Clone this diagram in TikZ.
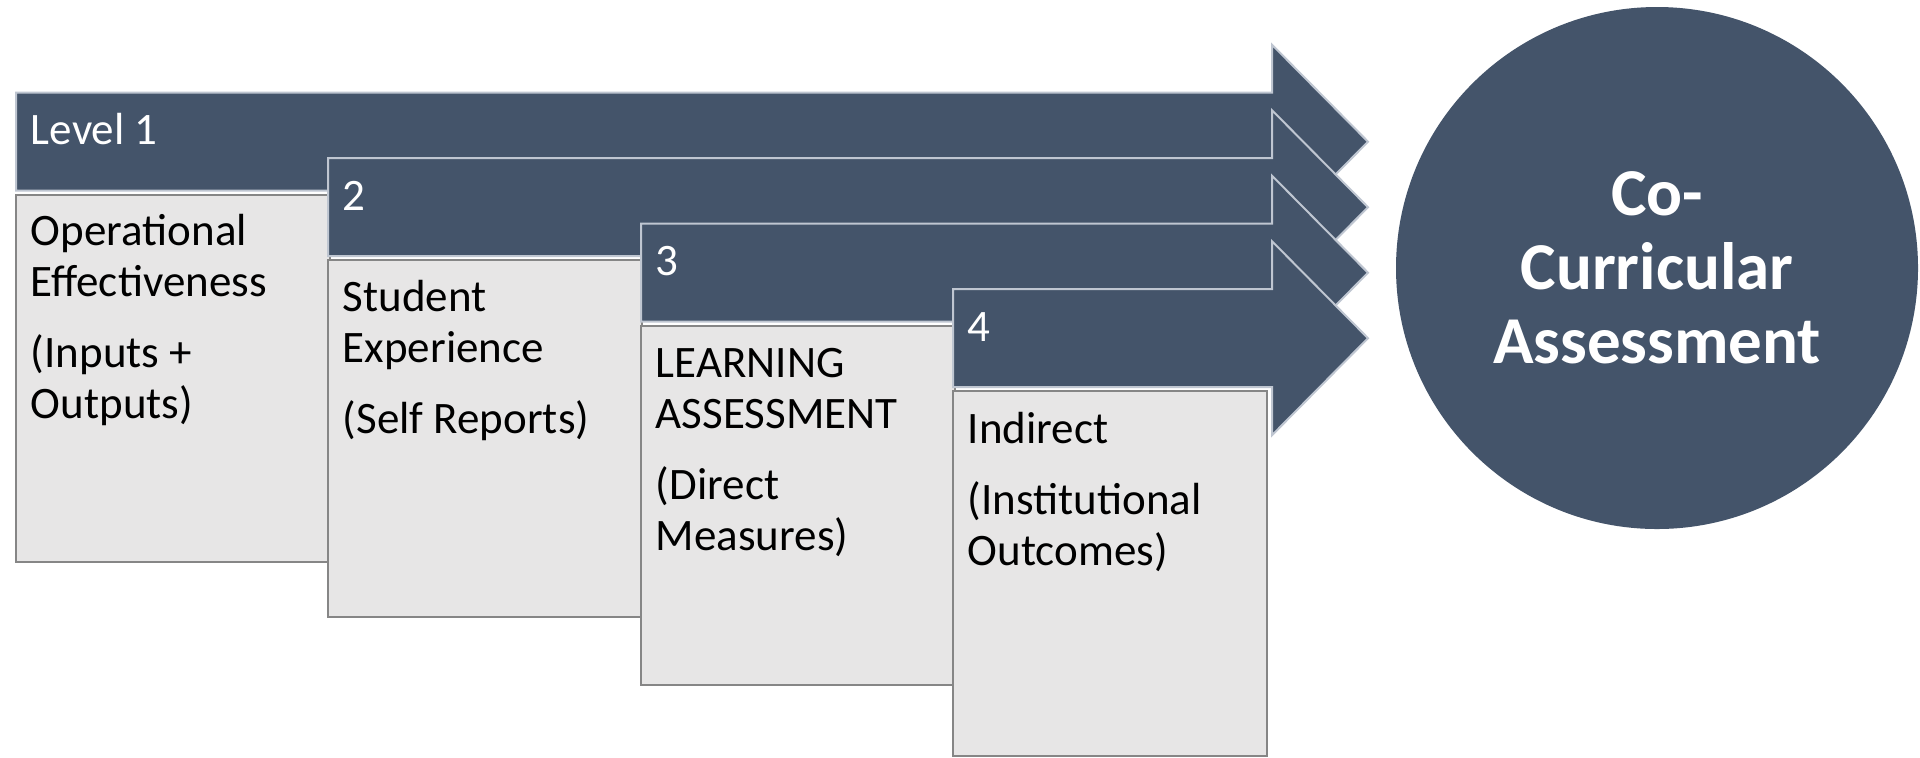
\documentclass[tikz,border=0pt]{standalone}
\usepackage{fontspec}
\setmainfont{Carlito}
\definecolor{slate}{HTML}{44546A}
\definecolor{boxgray}{HTML}{E7E6E6}
\definecolor{boxline}{HTML}{868686}
\definecolor{arrowline}{HTML}{BFC6D1}
\newcommand{\stepcontent}[1]{\parbox[t]{150pt}{\raggedright\setlength{\parskip}{10pt}#1}}
\begin{document}
\begin{tikzpicture}[x=0.5pt,y=-0.5pt,
  arrowshape/.style={fill=slate, draw=arrowline, line width=1pt, line join=miter},
  stepbox/.style={fill=boxgray, draw=boxline, line width=1pt},
  barlabel/.style={anchor=base west, inner sep=0pt, text=white, font=\fontsize{22.5pt}{25.5pt}\selectfont},
  boxtext/.style={anchor=base west, inner sep=0pt, text=black, font=\fontsize{22.5pt}{25.5pt}\selectfont},
  goalcircle/.style={circle, fill=slate, inner sep=0pt, minimum size=261pt, text=white,
     align=center, font=\bfseries\fontsize{33.5pt}{37pt}\selectfont}
]
\useasboundingbox (0,0) rectangle (1920,757);
\fill[white] (0,0) rectangle (1920,757);

% Level 1
\draw[arrowshape] (16,92.7) -- (1272,92.7) -- (1272,44.7) -- (1368,141.7) -- (1272,238.7) -- (1272,190.7) -- (16,190.7) -- cycle;
\draw[stepbox] (16,194.7) rectangle (330,562);
\node[barlabel] (l1) at (30.5,144.7) {Level 1};
\node[boxtext] (t1) at (30.5,245.7) {\stepcontent{Operational\\Effectiveness\par (Inputs +\\Outputs)}};

% Level 2
\draw[arrowshape] (328,158.2) -- (1272,158.2) -- (1272,110.2) -- (1368,207.2) -- (1272,304.2) -- (1272,256.2) -- (328,256.2) -- cycle;
\draw[stepbox] (328,260.2) rectangle (642,617);
\node[barlabel] (l2) at (342.5,210.2) {2};
\node[boxtext] (t2) at (342.5,311.2) {\stepcontent{Student\\Experience\par (Self Reports)}};

% Level 3
\draw[arrowshape] (641,223.7) -- (1272,223.7) -- (1272,175.7) -- (1368,272.7) -- (1272,369.7) -- (1272,321.7) -- (641,321.7) -- cycle;
\draw[stepbox] (641,325.7) rectangle (955,685);
\node[barlabel] (l3) at (655.5,275.7) {3};
\node[boxtext] (t3) at (655.5,377.7) {\stepcontent{LEARNING\\ASSESSMENT\par (Direct\\Measures)}};

% Level 4
\draw[arrowshape] (953,289.2) -- (1272,289.2) -- (1272,241.2) -- (1368,338.2) -- (1272,435.2) -- (1272,387.2) -- (953,387.2) -- cycle;
\draw[stepbox] (953,391.2) rectangle (1267,755.5);
\node[barlabel] (l4) at (967.5,341.2) {4};
\node[boxtext] (t4) at (967.5,443.2) {\stepcontent{Indirect\par (Institutional\\Outcomes)}};

% Goal
\node[goalcircle] (goal) at (1657,268) {Co-\\Curricular\\Assessment};
\end{tikzpicture}
\end{document}
